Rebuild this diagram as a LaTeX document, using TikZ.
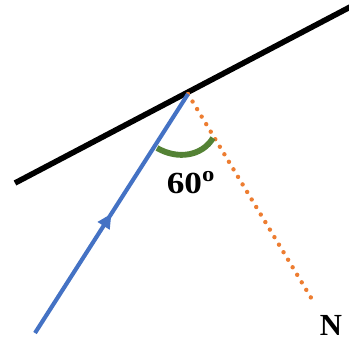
\documentclass[tikz,border=0pt]{standalone}
\usepackage{fontspec}
\setmainfont{Liberation Serif}
\usetikzlibrary{arrows.meta,decorations.markings}

\definecolor{rayblue}{HTML}{4472C4}
\definecolor{normorange}{HTML}{ED7D31}
\definecolor{anglegreen}{HTML}{548235}

\begin{document}
\begin{tikzpicture}[
    x=0.75pt, y=-0.75pt,
    mirror/.style={line width=4.2pt, black},
    ray/.style={line width=3.1pt, rayblue,
        postaction={decorate},
        decoration={markings, mark=at position 0.5 with {\arrow{Triangle[length=11pt,width=10pt]}}}},
    normal/.style={line width=3.3pt, normorange, line cap=round, dash pattern=on 0pt off 6.6pt},
    anglearc/.style={line width=4.4pt, anglegreen},
    label/.style={font=\fontsize{23}{25}\selectfont\bfseries, inner sep=0pt}
]
\useasboundingbox (0,0) rectangle (349,344);

\coordinate (mleft) at (15,183);
\coordinate (mright) at (352,6);
\coordinate (hit) at (188,94);
\coordinate (source) at (35,333);
\coordinate (nend) at (313,301);
\coordinate (arcstart) at (157,148);
\coordinate (arcend) at (213,138);

% mirror and normal
\draw[mirror] (mleft) -- (mright);
\draw[normal] (hit) -- (nend);

% incident ray
\draw[ray] (source) -- (hit);

% angle
\draw[anglearc] (arcstart) .. controls (178,160) and (202,156) .. (arcend);

\node[label, xscale=1.15] (angle) at (191,183) {60\textsuperscript{o}};
\node[label] (nlabel) at (331,325) {N};

\end{tikzpicture}
\end{document}
